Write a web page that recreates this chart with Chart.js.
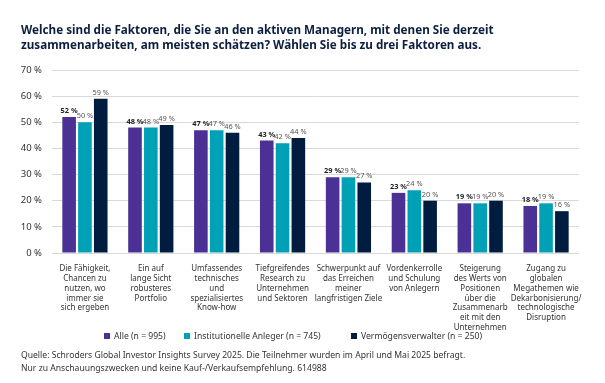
<!DOCTYPE html>
<html><head><meta charset="utf-8">
<script src="https://cdn.jsdelivr.net/npm/chart.js@4"></script>
<style>
html,body{margin:0;padding:0;background:#fff;width:605px;height:383px;overflow:hidden;font-family:"Noto Sans",sans-serif;}
#wrap{position:absolute;left:0;top:0;width:605px;height:383px;}
#title{position:absolute;left:21px;top:22px;font-family:"Noto Sans";font-weight:700;font-size:11.7px;line-height:15px;color:#0c1f3f;white-space:nowrap;}
#legend{position:absolute;top:329px;left:0;width:605px;height:14px;font-size:8.6px;line-height:14px;color:#333;}
.li{position:absolute;top:0;white-space:nowrap;}
.sw{position:absolute;top:4px;width:6px;height:6px;}
#foot{position:absolute;left:21px;top:349px;font-size:8.6px;line-height:12.5px;color:#333;white-space:nowrap;}
</style></head>
<body>
<div id="wrap"><canvas id="c" width="605" height="383"></canvas></div>
<div id="title">Welche sind die Faktoren, die Sie an den aktiven Managern, mit denen Sie derzeit<br>zusammenarbeiten, am meisten schätzen? Wählen Sie bis zu drei Faktoren aus.</div>
<div id="legend"></div>
<div id="foot">Quelle: Schroders Global Investor Insights Survey 2025. Die Teilnehmer wurden im April und Mai 2025 befragt.<br>Nur zu Anschauungszwecken und keine Kauf-/Verkaufsempfehlung. 614988</div>
<script>
const categories = [
  ["Die Fähigkeit,","Chancen zu","nutzen, wo","immer sie","sich ergeben"],
  ["Ein auf","lange Sicht","robusteres","Portfolio"],
  ["Umfassendes","technisches","und","spezialisiertes","Know-how"],
  ["Tiefgreifendes","Research zu","Unternehmen","und Sektoren"],
  ["Schwerpunkt auf","das Erreichen","meiner","langfristigen Ziele"],
  ["Vordenkerrolle","und Schulung","von Anlegern"],
  ["Steigerung","des Werts von","Positionen","über die","Zusammenarb","eit mit den","Unternehmen"],
  ["Zugang zu","globalen","Megathemen wie","Dekarbonisierung/","technologische","Disruption"]
];
const seriesNames = ["Alle (n = 995)","Institutionelle Anleger (n = 745)","Vermögensverwalter (n = 250)"];
const alle = [52,48,47,43,29,23,19,18];
const institutionelle = [50,48,47,42,29,24,19,19];
const vermoegen = [59,49,46,44,27,20,20,16];
const yTicks = [0,10,20,30,40,50,60,70];
const colors = ["#4b3195","#00a1b6","#001d40"];
const legendX = [104,184,351];

const leg = document.getElementById('legend');
seriesNames.forEach((n,i)=>{
  const d=document.createElement('div');d.className='li';d.style.left=legendX[i]+'px';
  d.innerHTML='<span class="sw" style="left:0;background:'+colors[i]+'"></span><span style="margin-left:10px">'+n+'</span>';
  leg.appendChild(d);
});

const labelPlugin = {
  id:'vals',
  afterDatasetsDraw(chart){
    const ctx=chart.ctx;
    chart.data.datasets.forEach((ds,di)=>{
      const meta=chart.getDatasetMeta(di);
      meta.data.forEach((bar,i)=>{
        ctx.save();
        ctx.font=(di===0?'bold ':'')+'7.4px "Noto Sans"';
        ctx.fillStyle=di===0?'#222':'#555';
        ctx.textAlign='center';ctx.textBaseline='alphabetic';
        ctx.fillText(ds.data[i]+' %',bar.x,bar.y-4);
        ctx.restore();
      });
    });
  }
};

new Chart(document.getElementById('c'),{
  type:'bar',
  data:{labels:categories,datasets:[
    {label:seriesNames[0],data:alle,backgroundColor:colors[0]},
    {label:seriesNames[1],data:institutionelle,backgroundColor:colors[1]},
    {label:seriesNames[2],data:vermoegen,backgroundColor:colors[2]}
  ]},
  options:{
    responsive:false,animation:false,
    layout:{padding:{left:0,top:70,right:26,bottom:0}},
    datasets:{bar:{categoryPercentage:0.72,barPercentage:0.86}},
    plugins:{legend:{display:false},tooltip:{enabled:false}},
    scales:{
      x:{grid:{display:false},border:{display:false},
        ticks:{color:'#333',font:{family:'Noto Sans',size:8,lineHeight:'9.8px'},padding:3,maxRotation:0,autoSkip:false},
        afterFit(s){s.height=130;}},
      y:{min:0,max:70,afterBuildTicks(s){s.ticks=yTicks.map(v=>({value:v}));},
        grid:{color:'#d9d9d9',lineWidth:1,drawTicks:false},border:{display:false},
        ticks:{color:'#333',font:{family:'Noto Sans',size:9.5},padding:10,callback:v=>v+' %'},
        afterFit(s){s.width=52;}}
    }
  },
  plugins:[labelPlugin]
});
</script>
</body></html>
